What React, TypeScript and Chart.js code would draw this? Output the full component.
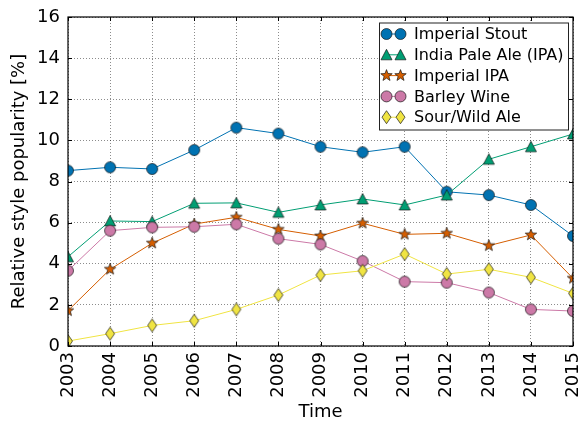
import React, { useEffect, useRef } from "react";
import { Chart, registerables } from "chart.js";

Chart.register(...registerables);

const years = ["2003", "2004", "2005", "2006", "2007", "2008", "2009", "2010", "2011", "2012", "2013", "2014", "2015"];
const yTicks = [0, 2, 4, 6, 8, 10, 12, 14, 16];

const imperialStout = [8.53, 8.69, 8.61, 9.53, 10.62, 10.33, 9.69, 9.42, 9.69, 7.5, 7.34, 6.86, 5.35];
const indiaPaleAle = [4.34, 6.08, 6.05, 6.94, 6.96, 6.5, 6.86, 7.15, 6.86, 7.34, 9.08, 9.69, 10.31];
const imperialIPA = [1.72, 3.73, 5.0, 5.93, 6.26, 5.67, 5.35, 5.97, 5.43, 5.48, 4.88, 5.4, 3.29];
const barleyWine = [3.66, 5.61, 5.77, 5.8, 5.92, 5.22, 4.94, 4.13, 3.13, 3.08, 2.6, 1.78, 1.7];
const sourWildAle = [0.24, 0.6, 1.0, 1.23, 1.78, 2.48, 3.45, 3.66, 4.47, 3.5, 3.73, 3.34, 2.56];

const seriesNames = ["Imperial Stout", "India Pale Ale (IPA)", "Imperial IPA", "Barley Wine", "Sour/Wild Ale"];
const seriesValues = [imperialStout, indiaPaleAle, imperialIPA, barleyWine, sourWildAle];
const seriesColors = ["#0072B2", "#009E73", "#D55E00", "#CC79A7", "#F0E442"];
const seriesShapes = ["circle", "triangle", "star", "circle", "diamond"];

const FONT = "'DejaVu Sans', sans-serif";
const EDGE = "rgba(20,20,20,0.85)";

function drawShape(ctx: CanvasRenderingContext2D, shape: string, cx: number, cy: number, fill: string) {
  ctx.save();
  ctx.fillStyle = fill;
  ctx.strokeStyle = EDGE;
  ctx.lineWidth = 0.8;
  ctx.beginPath();
  if (shape === "circle") {
    ctx.arc(cx, cy, 5.5, 0, Math.PI * 2);
  } else if (shape === "triangle") {
    ctx.moveTo(cx, cy - 5.5);
    ctx.lineTo(cx + 5.5, cy + 5);
    ctx.lineTo(cx - 5.5, cy + 5);
    ctx.closePath();
  } else if (shape === "star") {
    const R = 6, r = R * 0.42;
    for (let i = 0; i < 10; i++) {
      const rad = i % 2 === 0 ? R : r;
      const a = -Math.PI / 2 + (i * Math.PI) / 5;
      const x = cx + rad * Math.cos(a);
      const y = cy + rad * Math.sin(a);
      if (i === 0) ctx.moveTo(x, y);
      else ctx.lineTo(x, y);
    }
    ctx.closePath();
  } else if (shape === "diamond") {
    ctx.moveTo(cx, cy - 6.5);
    ctx.lineTo(cx + 4.5, cy);
    ctx.lineTo(cx, cy + 6.5);
    ctx.lineTo(cx - 4.5, cy);
    ctx.closePath();
  }
  ctx.fill();
  ctx.stroke();
  ctx.restore();
}

function makeMarker(shape: string, fill: string): HTMLCanvasElement {
  const c = document.createElement("canvas");
  c.width = 16;
  c.height = 16;
  const ctx = c.getContext("2d")!;
  drawShape(ctx, shape, 8, 8, fill);
  return c;
}

const framePlugin = {
  id: "frameAndLegend",
  afterDraw(chart: any) {
    const { ctx, chartArea, scales } = chart;
    const { left, top, right, bottom } = chartArea;
    ctx.save();
    ctx.strokeStyle = "#000";
    ctx.lineWidth = 1.2;
    ctx.strokeRect(left, top, right - left, bottom - top);

    // inward ticks
    ctx.lineWidth = 1;
    ctx.beginPath();
    for (const v of yTicks) {
      const y = Math.round(scales.y.getPixelForValue(v)) + 0.5;
      ctx.moveTo(left, y);
      ctx.lineTo(left + 4, y);
      ctx.moveTo(right, y);
      ctx.lineTo(right - 4, y);
    }
    for (let i = 0; i < years.length; i++) {
      const x = Math.round(scales.x.getPixelForValue(i)) + 0.5;
      ctx.moveTo(x, top);
      ctx.lineTo(x, top + 4);
      ctx.moveTo(x, bottom);
      ctx.lineTo(x, bottom - 4);
    }
    ctx.stroke();

    // legend
    const boxW = 189;
    const boxH = 107;
    const bx = right - 5 - boxW;
    const by = top + 5.5;
    ctx.fillStyle = "#fff";
    ctx.fillRect(bx, by, boxW, boxH);
    ctx.strokeStyle = "#222";
    ctx.lineWidth = 1;
    ctx.strokeRect(bx + 0.5, by + 0.5, boxW, boxH);
    ctx.font = "16px " + FONT;
    ctx.textBaseline = "middle";
    ctx.textAlign = "left";
    for (let i = 0; i < seriesNames.length; i++) {
      const y = by + 11.5 + i * 20.8;
      const x1 = bx + 7.5;
      const x2 = bx + 21.5;
      ctx.strokeStyle = seriesColors[i];
      ctx.lineWidth = 1;
      ctx.beginPath();
      ctx.moveTo(x1, y);
      ctx.lineTo(x2, y);
      ctx.stroke();
      drawShape(ctx, seriesShapes[i], x1, y, seriesColors[i]);
      drawShape(ctx, seriesShapes[i], x2, y, seriesColors[i]);
      ctx.fillStyle = "#000";
      ctx.fillText(seriesNames[i], bx + 35, y + 1);
    }
    ctx.restore();
  },
};

export default function App() {
  const canvasRef = useRef<HTMLCanvasElement | null>(null);

  useEffect(() => {
    document.body.style.margin = "0";
    const canvas = canvasRef.current!;
    const datasets = seriesNames.map((name, i) => ({
      label: name,
      data: seriesValues[i],
      borderColor: seriesColors[i],
      backgroundColor: seriesColors[i],
      borderWidth: 1,
      pointStyle: makeMarker(seriesShapes[i], seriesColors[i]),
      pointRadius: 6,
      tension: 0,
      clip: 0,
      order: seriesNames.length - 1 - i,
    }));

    const chart = new Chart(canvas, {
      type: "line",
      data: { labels: years, datasets },
      plugins: [framePlugin],
      options: {
        animation: false,
        responsive: false,
        layout: { padding: { top: 17, right: 8, left: 0, bottom: 0 } },
        plugins: { legend: { display: false }, tooltip: { enabled: false } },
        scales: {
          x: {
            type: "category",
            offset: false,
            grid: { color: "rgba(0,0,0,0.45)", lineWidth: 1, drawTicks: false },
            border: { display: false, dash: [1, 2] },
            ticks: {
              color: "#000",
              font: { family: FONT, size: 18 },
              minRotation: 90,
              maxRotation: 90,
              padding: 6,
              autoSkip: false,
            },
            title: {
              display: true,
              text: "Time",
              color: "#000",
              font: { family: FONT, size: 18 },
              padding: { top: 0, bottom: 0 },
            },
            afterFit(scale: any) {
              scale.height = 77;
              scale.paddingLeft = 0;
              scale.paddingRight = 0;
            },
          },
          y: {
            type: "linear",
            min: 0,
            max: 16,
            afterBuildTicks(scale: any) {
              scale.ticks = yTicks.map((v) => ({ value: v }));
            },
            grid: { color: "rgba(0,0,0,0.45)", lineWidth: 1, drawTicks: false },
            border: { display: false, dash: [1, 2] },
            ticks: {
              color: "#000",
              font: { family: FONT, size: 18 },
              padding: 8,
            },
            title: {
              display: true,
              text: "Relative style popularity [%]",
              color: "#000",
              font: { family: FONT, size: 18 },
              padding: { top: 9, bottom: 0 },
            },
            afterFit(scale: any) {
              scale.width = 68;
              scale.paddingTop = 0;
              scale.paddingBottom = 0;
            },
          },
        },
      },
    } as any);

    return () => chart.destroy();
  }, []);

  return (
    <div style={{ width: 581, height: 423 }}>
      <canvas ref={canvasRef} width={581} height={423} style={{ display: "block" }} />
    </div>
  );
}
